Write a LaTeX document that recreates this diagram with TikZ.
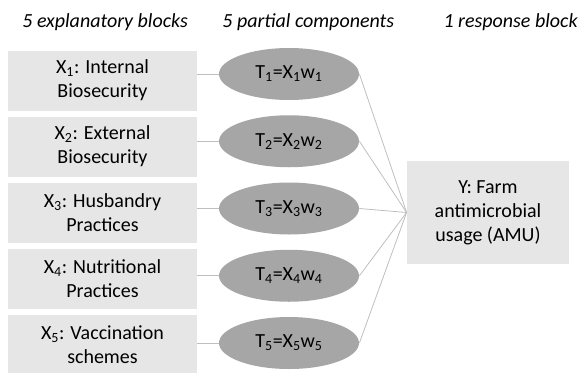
\documentclass[tikz,border=0pt]{standalone}
\usepackage{fontspec}
\setmainfont{Carlito}
\usepackage{tikz}
\usetikzlibrary{shapes.geometric}

\definecolor{blockgray}{HTML}{E6E6E6}
\definecolor{compgray}{HTML}{A6A6A6}
\definecolor{linkgray}{HTML}{BFBFBF}

\begin{document}
\begin{tikzpicture}[x=1pt,y=-1pt,-,line width=0.8pt,node distance=66pt,
    txt/.style={font=\fontsize{20}{24}\selectfont},
    block/.style={txt,fill=blockgray,minimum width=189pt,minimum height=60pt,align=center,inner sep=0pt},
    comp/.style={txt,ellipse,fill=compgray,minimum width=140pt,minimum height=52pt,inner sep=0pt,node distance=67.25pt},
    head/.style={txt,font=\fontsize{20}{24}\selectfont\itshape,inner sep=0pt},
    link/.style={draw=linkgray}]

\useasboundingbox (0,0) rectangle (580,372);

\node[head, anchor=base west] (H1) at (22,27) {5 explanatory blocks};
\node[head, anchor=base west] (H2) at (222,27) {5 partial components};
\node[head, anchor=base east] (H3) at (578,27) {1 response block};

\node[block] (X1) at (102.5,80.5) {X\textsubscript{1}: Internal\\Biosecurity};
\node[block] (X2) [below of=X1] {X\textsubscript{2}: External\\Biosecurity};
\node[block] (X3) [below of=X2] {X\textsubscript{3}: Husbandry\\Practices};
\node[block] (X4) [below of=X3] {X\textsubscript{4}: Nutritional\\Practices};
\node[block] (X5) [below of=X4] {X\textsubscript{5}: Vaccination\\schemes};

\node[comp] (T1) at (289,74) {T\textsubscript{1}=X\textsubscript{1}w\textsubscript{1}};
\node[comp] (T2) [below of=T1] {T\textsubscript{2}=X\textsubscript{2}w\textsubscript{2}};
\node[comp] (T3) [below of=T2] {T\textsubscript{3}=X\textsubscript{3}w\textsubscript{3}};
\node[comp] (T4) [below of=T3] {T\textsubscript{4}=X\textsubscript{4}w\textsubscript{4}};
\node[comp] (T5) [below of=T4] {T\textsubscript{5}=X\textsubscript{5}w\textsubscript{5}};

\node[block, minimum width=162pt, minimum height=103pt] (Y) at (488,212.5) {Y: Farm\\antimicrobial\\usage (AMU)};

\path[link]
	(T1.west) edge (T1.west -| X1.east)
	(T2.west) edge (T2.west -| X2.east)
	(T3.west) edge (T3.west -| X3.east)
	(T4.west) edge (T4.west -| X4.east)
	(T5.west) edge (T5.west -| X5.east);

\path[link]
	(T1.east) edge (Y.west)
	(T2.east) edge (Y.west)
	(T3.east) edge (Y.west)
	(T4.east) edge (Y.west)
	(T5.east) edge (Y.west);

\end{tikzpicture}
\end{document}
